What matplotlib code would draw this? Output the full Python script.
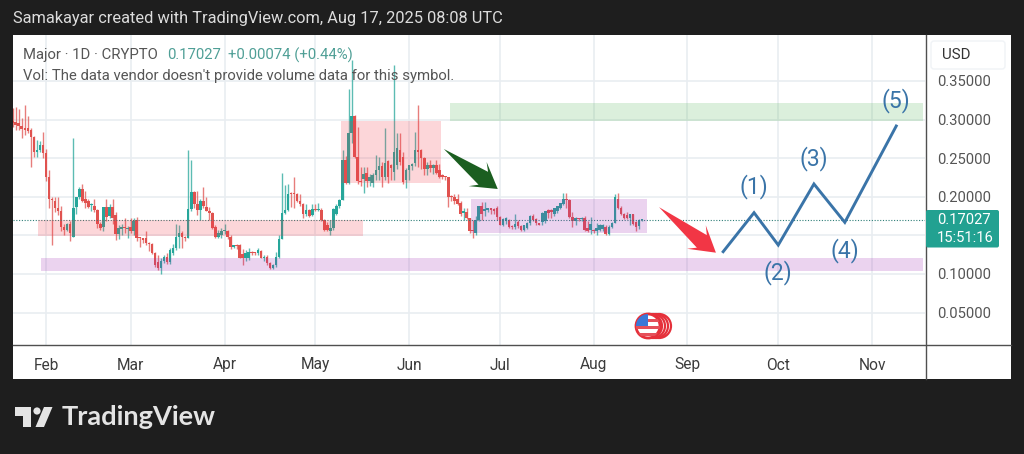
#!/usr/bin/env python3
import numpy as np
import matplotlib
matplotlib.use("Agg")
import matplotlib.pyplot as plt
from matplotlib.patches import Rectangle, Polygon, Circle, FancyBboxPatch
from matplotlib.lines import Line2D
from matplotlib.transforms import Affine2D

plt.rcParams['font.family'] = ['Roboto', 'DejaVu Sans']

# one row = one stretch of daily candles, first candle is 11 days before Feb 1
opens = [
 .298,.297,.296,.292,.289,.289,.287,.278,.258,.261,.267,.257,.226,.197,.195,.186,.181,.161,.157,.165,
 .148,.187,.200,.210,.197,.194,.189,.188,.183,.165,.161,.187,.175,.187,.176,.152,.158,.161,.158,.161,
 .155,.170,.147,.146,.146,.140,.139,.127,.115,.108,.117,.122,.116,.127,.134,.148,.153,.148,.147,.184,
 .206,.190,.183,.195,.187,.182,.179,.161,.148,.151,.155,.155,.148,.135,.138,.138,.126,.121,.120,.129,
 .128,.127,.130,.120,.122,.114,.108,.112,.122,.145,.179,.183,.205,.205,.204,.195,.191,.177,.183,.176,
 .184,.183,.183,.170,.163,.155,.160,.177,.188,.196,.248,.218,.282,.304,.252,.220,.223,.231,.221,.218,.228,
 .235,.240,.225,.246,.241,.232,.241,.261,.252,.222,.234,.240,.244,.261,.261,.250,.236,.241,.237,.241,
 .235,.228,.226,.225,.200,.199,.197,.192,.179,.180,.172,.156,.153,.170,.188,.182,.183,.185,.184,.186,
 .174,.164,.168,.170,.162,.161,.167,.162,.157,.160,.166,.175,.171,.165,.167,.168,.183,.183,.177,.181,
 .186,.190,.197,.196,.174,.168,.172,.171,.173,.160,.157,.157,.155,.157,.158,.161,.152,.161,.166,.197,
 .186,.177,.176,.172,.177,.167,.162,.16953,
]
highs = [
 .315,.316,.313,.302,.319,.304,.289,.279,.273,.272,.284,.262,.235,.200,.199,.199,.188,.165,.166,.168,
 .276,.200,.212,.216,.208,.197,.192,.197,.184,.167,.187,.197,.190,.197,.180,.163,.165,.172,.162,.172,
 .172,.174,.148,.147,.156,.141,.140,.128,.124,.120,.124,.127,.134,.139,.165,.164,.155,.149,.260,.247,
 .207,.208,.197,.213,.199,.187,.180,.163,.157,.159,.165,.157,.150,.138,.139,.139,.132,.131,.133,.130,
 .129,.134,.131,.124,.124,.116,.113,.128,.150,.231,.215,.216,.206,.225,.205,.203,.192,.190,.184,.190,
 .190,.192,.185,.171,.167,.170,.186,.190,.197,.261,.253,.340,.377,.306,.290,.239,.239,.238,.230,.231,.254,
 .252,.245,.289,.248,.243,.370,.283,.283,.258,.237,.241,.244,.284,.319,.262,.251,.245,.247,.243,.247,
 .243,.230,.227,.226,.202,.203,.203,.194,.185,.185,.173,.170,.175,.188,.193,.193,.186,.186,.186,.188,
 .175,.172,.174,.171,.163,.177,.170,.164,.163,.167,.176,.178,.172,.166,.180,.182,.184,.184,.186,.188,
 .192,.205,.205,.197,.180,.174,.173,.174,.175,.168,.174,.158,.166,.165,.165,.163,.163,.167,.204,.205,
 .188,.179,.180,.178,.178,.169,.171,.1705,
]
lows = [
 .290,.287,.287,.276,.280,.283,.239,.252,.252,.258,.250,.220,.186,.138,.180,.176,.155,.150,.155,.143,
 .148,.178,.197,.193,.186,.185,.181,.180,.160,.157,.156,.168,.172,.165,.144,.145,.150,.153,.146,.153,
 .150,.143,.135,.140,.137,.130,.126,.109,.105,.100,.114,.113,.113,.125,.131,.134,.133,.142,.146,.182,
 .185,.176,.170,.186,.181,.170,.158,.147,.147,.146,.152,.145,.132,.133,.132,.120,.112,.117,.118,.124,
 .124,.125,.120,.117,.112,.106,.107,.109,.120,.145,.178,.181,.187,.186,.193,.188,.172,.175,.174,.175,
 .182,.181,.168,.155,.155,.151,.157,.176,.186,.196,.217,.217,.270,.250,.216,.214,.205,.212,.214,.212,.222,
 .222,.212,.222,.218,.222,.222,.236,.241,.217,.211,.222,.234,.240,.238,.236,.228,.228,.232,.229,.230,
 .224,.223,.222,.187,.194,.191,.189,.175,.170,.171,.153,.146,.151,.168,.170,.175,.180,.178,.178,.170,
 .163,.162,.165,.159,.158,.158,.160,.155,.155,.158,.164,.168,.164,.163,.163,.166,.172,.172,.175,.179,
 .184,.189,.186,.173,.161,.164,.169,.169,.155,.154,.152,.153,.151,.155,.155,.150,.150,.160,.166,.184,
 .176,.171,.171,.163,.164,.156,.158,.1690,
]
closes = [
 .296,.293,.292,.288,.287,.285,.278,.258,.261,.267,.257,.226,.197,.196,.186,.181,.161,.157,.165,.153,
 .186,.200,.210,.194,.192,.187,.191,.183,.165,.160,.187,.174,.187,.172,.152,.160,.161,.159,.160,.156,
 .169,.147,.146,.144,.140,.139,.127,.112,.108,.117,.122,.116,.131,.134,.148,.153,.148,.147,.184,.206,
 .190,.183,.195,.188,.181,.179,.160,.148,.153,.156,.156,.148,.135,.137,.136,.121,.120,.127,.129,.127,
 .127,.131,.121,.122,.114,.108,.112,.122,.145,.179,.183,.204,.204,.203,.194,.190,.177,.183,.175,.184,
 .183,.184,.170,.157,.157,.160,.184,.188,.196,.248,.218,.282,.304,.252,.220,.219,.230,.221,.226,.228,.235,
 .240,.226,.244,.226,.237,.258,.263,.245,.219,.234,.241,.243,.260,.258,.250,.236,.241,.237,.241,.231,
 .225,.226,.225,.200,.199,.194,.191,.177,.181,.172,.155,.155,.170,.188,.177,.184,.185,.183,.182,.174,
 .164,.171,.172,.161,.161,.165,.162,.157,.163,.166,.175,.170,.166,.164,.179,.181,.179,.180,.186,.188,
 .192,.197,.196,.174,.168,.172,.171,.172,.157,.155,.165,.155,.160,.163,.164,.152,.161,.166,.199,.186,
 .177,.173,.172,.177,.165,.161,.170,.17027,
]
first_day = -11

month_days = [0, 28, 59, 89, 120, 150, 181, 212, 242, 273]
month_labels = ['Feb', 'Mar', 'Apr', 'May', 'Jun', 'Jul', 'Aug', 'Sep', 'Oct', 'Nov']
price_ticks = [0.05, 0.10, 0.15, 0.20, 0.25, 0.30, 0.35]
price_labels = ['0.05000', '0.10000', '', '0.20000', '0.25000', '0.30000', '0.35000']
last_price = 0.17027

wave_days = [223.8, 234.0, 242.0, 253.8, 264.0, 281.0]
wave_prices = [.1288, .1793, .1374, .2165, .1668, .2916]
wave_labels = ['(1)', '(2)', '(3)', '(4)', '(5)']
wave_label_days = [234.0, 242.0, 253.8, 264.0, 281.0]
wave_label_prices = [.2126, .1015, .2501, .1309, .3244]

# zones: day start, day end, price low, price high
red_zones = [(-2.6, 104.8, .1491, .1698), (97.5, 130.5, .218, .298)]
purple_zones = [(-1.6, 289.7, .1033, .1203), (140.5, 198.6, .153, .1966)]
green_zones = [(133.5, 289.7, .2981, .3220)]

# arrows: day, price of tail then tip
green_arrow = (131.5, .2618, 149.3, .2100)
red_arrow = (202.6, .1865, 221.4, .1275)

UP = '#26a69a'
DOWN = '#e0524f'
BLUE = '#3a74a8'
GRID = '#e9edf1'
DARK = '#1e1e1e'

W, H = 1024, 454
fig = plt.figure(figsize=(W / 100, H / 100), dpi=100, facecolor=DARK)
px = Affine2D().scale(1, -1).translate(0, H)  # image pixels, y down

fig.add_artist(Rectangle((13, 35), 998, 344, transform=px, fc='white', ec='none', zorder=-1))

ax = fig.add_axes([13 / W, (H - 345) / H, 912 / W, 310 / H], facecolor='white')
ax.set_xlim(-10.9, 290.5)
ax.set_ylim(.0079, .4095)
ax.set_axisbelow(True)
ax.grid(True, color=GRID, lw=1.2)
ax.set_xticks(month_days, month_labels)
ax.set_yticks(price_ticks, price_labels)
ax.yaxis.tick_right()
ax.tick_params(axis='x', length=0, pad=9, labelsize=11.2, labelcolor='#3c3c3c')
ax.tick_params(axis='y', length=0, pad=8.6, labelsize=10.6, labelcolor='#555555')
for name in ax.spines:
	ax.spines[name].set_visible(False)

# pane separators run through the price and time scales
fig.add_artist(Line2D([13, 1011], [345, 345], transform=px, color='#505050', lw=1, zorder=4))
fig.add_artist(Line2D([925.5, 925.5], [35, 379], transform=px, color='#505050', lw=1, zorder=4))

# candles
days = first_day + np.arange(len(closes))
o, h, l, c = [np.array(a) for a in (opens, highs, lows, closes)]
colors = np.where(c >= o, UP, DOWN)
ax.vlines(days, l, h, colors=colors, lw=1.0, alpha=0.75, zorder=3)
ax.bar(days, np.maximum(np.abs(c - o), .0014), bottom=np.minimum(o, c), width=0.85, color=colors, lw=0, zorder=4)

ax.axhline(last_price, color='#2f7f78', lw=0.8, ls=(0, (1, 1.5)), zorder=5)

# drawings
for zones, col in ((red_zones, '#f23645'), (purple_zones, '#9c27b0'), (green_zones, '#4caf50')):
	for d0, d1, p0, p1 in zones:
		ax.add_patch(Rectangle((d0, p0), d1 - d0, p1 - p0, fc=col, ec='none', alpha=0.2, zorder=6))

def draw_arrow(ax, spec, col) :
	# tapered arrow like the TradingView arrow marker
	tail = ax.transData.transform(spec[:2])
	tip = ax.transData.transform(spec[2:])
	u = (tip - tail) / np.hypot(*(tip - tail))
	n = np.array([-u[1], u[0]])
	pts = [tail, tip - 18 * u + 8 * n, tip - 25 * u + 15 * n, tip, tip - 25 * u - 15 * n, tip - 18 * u - 8 * n]
	ax.add_patch(Polygon(pts, closed=True, transform=None, fc=col, ec='none', zorder=7))

draw_arrow(ax, green_arrow, '#1b5e20')
draw_arrow(ax, red_arrow, '#f23645')

ax.plot(wave_days, wave_prices, color=BLUE, lw=2.1, zorder=7, solid_joinstyle='miter')
for d, p, s in zip(wave_label_days, wave_label_prices, wave_labels):
	ax.text(d, p, s, color=BLUE, fontsize=16.5, ha='center', va='center', zorder=8)

# flag marker with the stacked event rings
for cx in (659, 656, 653, 650):
	fig.add_artist(Circle((cx, 326), 12, transform=px, fc='white', ec='#e5303a', lw=1.6, zorder=5))
disc = Circle((648, 326), 12, transform=px, fc='white', ec='#e5303a', lw=2, zorder=6)
fig.add_artist(disc)
for y0, y1 in ((319, 322), (326, 329), (333, 336)):
	r = Rectangle((636, y0), 24, y1 - y0, transform=px, fc='#e5505a', ec='none', zorder=7)
	fig.add_artist(r)
	r.set_clip_path(disc)
r = Rectangle((636, 314), 12, 12, transform=px, fc='#3a78d8', ec='none', zorder=8)
fig.add_artist(r)
r.set_clip_path(disc)

# last price tag
fig.add_artist(FancyBboxPatch((926, 210), 73, 37.5, boxstyle='round,pad=0,rounding_size=2', transform=px, fc='#22a191', ec='none', zorder=6))
fig.text(937 / W, 1 - 220 / H, '0.17027', color='white', fontsize=10.6, va='center', zorder=7)
fig.text(937 / W, 1 - 238 / H, '15:51:16', color='white', fontsize=10.6, va='center', zorder=7)

# currency button
fig.add_artist(FancyBboxPatch((931, 41), 74, 28, boxstyle='round,pad=0,rounding_size=3', transform=px, fc='white', ec='#f0f3f6', lw=1, zorder=6))
fig.text(956 / W, 1 - 55 / H, 'USD', color='#333333', fontsize=10.8, ha='center', va='center', zorder=7)

# header and legend text
fig.text(13 / W, 1 - 18 / H, 'Samakayar created with TradingView.com, Aug 17, 2025 08:08 UTC', color='#dcdcdc', fontsize=11.75, va='center')
fig.text(23 / W, 1 - 55 / H, 'Major · 1D · CRYPTO', color='#555555', fontsize=10.7, va='center', zorder=9)
fig.text(167 / W, 1 - 55 / H, '0.17027', color='#4f9f96', fontsize=10.7, va='center', zorder=9)
fig.text(228 / W, 1 - 55 / H, '+0.00074 (+0.44%)', color='#4f9f96', fontsize=10.7, va='center', zorder=9)
fig.text(23 / W, 1 - 76 / H, "Vol: The data vendor doesn't provide volume data for this symbol.", color='#555555', fontsize=10.75, va='center', zorder=9)

# TradingView logo
LOGO = '#e4e4e4'
fig.add_artist(Polygon([(15, 407), (31, 407), (31, 427), (23, 427), (23, 416), (15, 416)], transform=px, fc=LOGO, ec='none'))
fig.add_artist(Circle((37, 411), 3.6, transform=px, fc=LOGO, ec='none'))
fig.add_artist(Polygon([(44, 407), (52.5, 407), (44, 427), (35.5, 427)], transform=px, fc=LOGO, ec='none'))
fig.text(61.5 / W, 1 - 417 / H, 'TradingView', color=LOGO, fontsize=19.6, fontweight='bold', family='Lato', va='center')

fig.savefig('out.png', dpi=100, facecolor=DARK)
